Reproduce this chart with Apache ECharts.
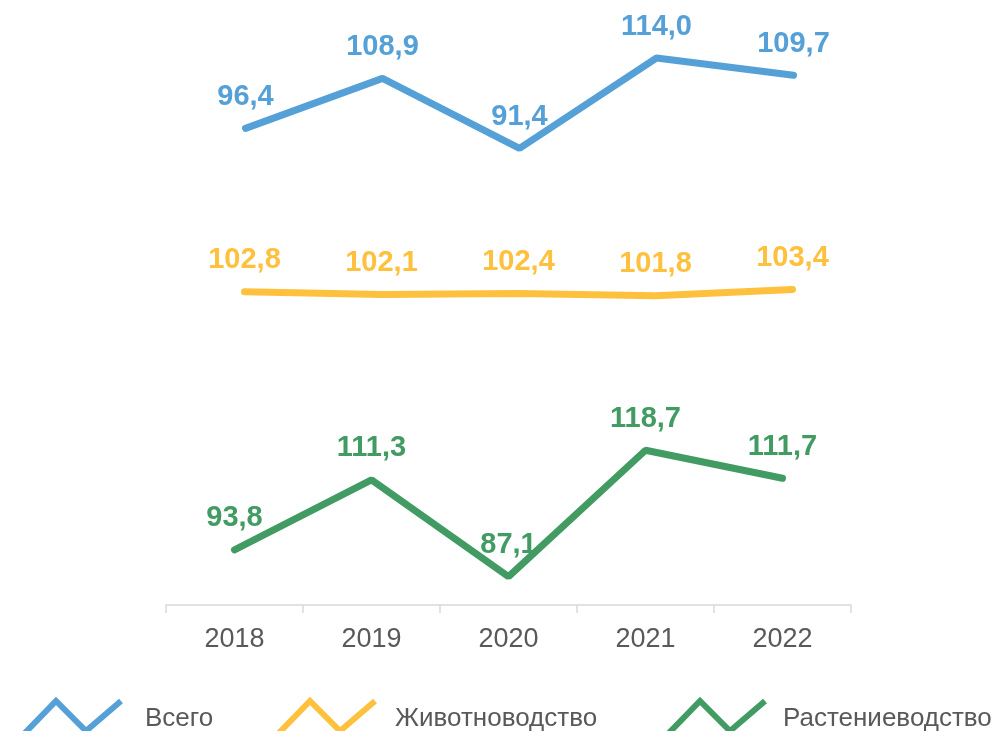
<!DOCTYPE html>
<html>
<head>
  <meta charset="utf-8">
  <title>ECharts</title>
  <script src="https://cdn.jsdelivr.net/npm/echarts@6/dist/echarts.min.js"></script>
  <style>
  html, body { margin: 0; padding: 0; background: #fff; }
  #main {
    width: 1000px;
    height: 731px;
  }
  </style>
</head>
<body>
  <div id="main"></div>
  <script type="text/javascript">
  // data
  var years = ['2018', '2019', '2020', '2021', '2022'];
  var total = [96.4, 108.9, 91.4, 114.0, 109.7];
  var livestock = [102.8, 102.1, 102.4, 101.8, 103.4];
  var crops = [93.8, 111.3, 87.1, 118.7, 111.7];
  var names = ['Всего', 'Животноводство', 'Растениеводство'];
  var colors = ['#56a0d8', '#fec13d', '#419b63'];

  var myChart = echarts.init(document.getElementById('main'));

  var fmt = function (p) { return p.value.toFixed(1).replace('.', ','); };
  var zig = 'path://M0,36 L35,0 L65,30 L100,0';

  function line(idx, data) {
    return {
      name: names[idx],
      type: 'line',
      xAxisIndex: idx,
      yAxisIndex: idx,
      data: data,
      symbol: 'circle',
      symbolSize: 2,
      itemStyle: { color: colors[idx] },
      lineStyle: { color: colors[idx], width: 7, cap: 'round' },
      label: {
        show: true,
        position: 'top',
        distance: 16,
        formatter: fmt,
        color: colors[idx],
        fontSize: 29,
        fontWeight: 'bold',
        fontFamily: 'Liberation Sans, Arial, sans-serif'
      },
      silent: true,
      animation: false
    };
  }

  function legend(idx, left, gap) {
    return {
      left: left,
      top: 698,
      padding: 0,
      selectedMode: false,
      icon: zig,
      itemWidth: 100,
      itemHeight: 36,
      itemStyle: { color: 'transparent', borderWidth: 6, borderColor: colors[idx] },
      textStyle: {
        fontSize: 26,
        color: '#595959',
        fontFamily: 'Liberation Sans, Arial, sans-serif',
        padding: [0, 0, 12, gap]
      },
      data: [names[idx]]
    };
  }

  var hiddenX = function (i) {
    return { type: 'category', gridIndex: i, data: years, show: false };
  };

  var option = {
    backgroundColor: '#fff',
    grid: [
      { left: 177, right: 138, top: 34, height: 160 },
      { left: 176, right: 139, top: 263, height: 60 },
      { left: 166, right: 149, top: 445, height: 160 }
    ],
    xAxis: [
      hiddenX(0),
      hiddenX(1),
      {
        type: 'category',
        gridIndex: 2,
        data: years,
        axisLine: { lineStyle: { color: '#d9d9d9', width: 1.5 } },
        axisTick: { show: true, length: 8, lineStyle: { color: '#d9d9d9', width: 1.5 } },
        axisLabel: {
          color: '#595959',
          fontSize: 27,
          margin: 21,
          fontFamily: 'Liberation Sans, Arial, sans-serif'
        }
      }
    ],
    yAxis: [
      { type: 'value', gridIndex: 0, min: 80, max: 120, show: false },
      { type: 'value', gridIndex: 1, min: 95, max: 110, show: false },
      { type: 'value', gridIndex: 2, min: 80, max: 120, show: false }
    ],
    legend: [
      legend(0, 18, 19),
      legend(1, 272, 15),
      legend(2, 662, 13)
    ],
    series: [
      line(0, total),
      line(1, livestock),
      line(2, crops)
    ]
  };
  myChart.setOption(option);
  window.onresize = myChart.resize;
  </script>
</body>
</html>
